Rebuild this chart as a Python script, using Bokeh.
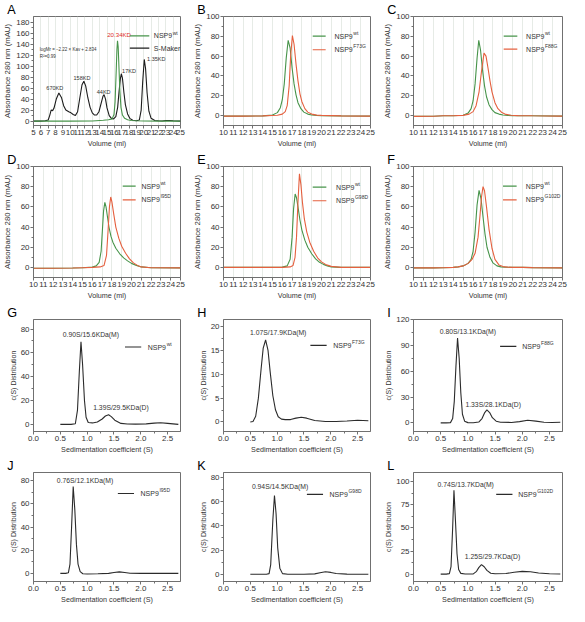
import numpy as np
from bokeh.plotting import figure
from bokeh.layouts import gridplot
from bokeh.models import Label, Arrow, FixedTicker, PrintfTickFormatter, Range1d
from bokeh.embed import file_html
from bokeh.resources import INLINE

# ---------------- data ----------------
# Panel A: SEC calibration (S-Maker) and NSP9 wild type
A_marker_x = [5, 6, 6.6, 7.0, 7.2, 7.4, 7.6, 7.8, 8.1, 8.45, 8.8, 9.1, 9.4, 9.8, 10.1, 10.4, 10.7, 11.0,
              11.3, 11.6, 11.85, 12.1, 12.4, 12.7, 13.0, 13.3, 13.6, 13.9, 14.2, 14.45, 14.6, 14.8, 15.0,
              15.3, 15.6, 15.9, 16.2, 16.45, 16.65, 16.82, 16.95, 17.1, 17.3, 17.5, 17.8, 18.1, 18.5, 19.0,
              19.4, 19.65, 19.85, 20.07, 20.25, 20.45, 20.7, 21.0, 21.5, 22.0, 22.5, 23.0, 23.5, 24.0, 25.0]
A_marker_y = [0, 0, 0.5, 2, 10, 20, 19, 24, 40, 51, 43, 28, 20, 17, 15, 12, 10, 17,
              42, 66, 72.5, 64, 42, 25, 15, 11, 11, 17, 32, 45, 48, 40, 24,
              10, 5, 4, 8, 25, 55, 77, 86, 78, 52, 30, 13, 5, 1.5, 0.5,
              2, 20, 70, 112, 95, 52, 18, 5, 1, 0.5, 0.3, 1, 1.2, 0.5, 0]
A_wt_x = [5, 10, 13, 14.5, 15.2, 15.7, 15.95, 16.1, 16.25, 16.35, 16.43, 16.52, 16.62, 16.75, 16.9, 17.1,
          17.4, 17.8, 18.3, 19.0, 20, 22, 25]
A_wt_y = [0, 0, 0.3, 1.5, 2.5, 4, 12, 35, 90, 130, 146, 135, 100, 55, 25, 11, 5, 2.5, 1.2, 0.5, 0.3, 0, 0]

# Panels B-F: SEC, wild type vs mutant
B_wt_x = [10, 12, 14, 15, 15.5, 15.8, 16.0, 16.2, 16.4, 16.6, 16.8, 17.0, 17.2, 17.4, 17.6, 17.9, 18.2,
          18.6, 19.0, 19.5, 20, 22, 25]
B_wt_y = [-0.5, -0.5, -0.3, 0.5, 3, 8, 16, 32, 58, 76, 68, 48, 32, 21, 13, 7, 3.5, 1.5, 0.6, 0.2, 0, -0.3, -0.5]
B_mut_x = [10, 12, 14, 15.5, 16.0, 16.3, 16.5, 16.7, 16.85, 17.03, 17.2, 17.4, 17.6, 17.8, 18.0, 18.3, 18.6,
           19.0, 19.5, 20, 22, 25]
B_mut_y = [-0.5, -0.5, -0.3, 0.3, 1.5, 4, 10, 30, 60, 80.8, 72, 52, 35, 22, 14, 7, 3.5, 1.5, 0.5, 0.2, -0.3, -0.5]

C_wt_x = [10, 12, 13, 14, 15, 15.5, 15.8, 16.0, 16.2, 16.4, 16.57, 16.75, 16.95, 17.15, 17.35, 17.6, 17.9,
          18.2, 18.6, 19.0, 19.5, 20, 22, 25]
C_wt_y = [-0.8, -0.6, -0.2, -0.2, 0.3, 2.5, 7, 15, 32, 58, 76, 66, 46, 30, 19, 11, 6, 3, 1.5, 0.6, 0.2, 0, -0.2, -0.5]
C_mut_x = [10, 12, 13, 14, 15, 15.6, 16.0, 16.3, 16.6, 16.85, 17.1, 17.3, 17.5, 17.7, 17.9, 18.2, 18.5, 18.9,
           19.3, 19.8, 20.5, 22, 25]
C_mut_y = [-0.8, -0.6, -0.2, -0.2, 0.2, 1.5, 4, 10, 24, 45, 63, 60, 48, 35, 24, 13, 7, 3, 1.2, 0.4, 0, -0.2, -0.5]

D_wt_x = [10, 12, 14, 15, 16, 16.4, 16.7, 16.9, 17.05, 17.15, 17.28, 17.4, 17.55, 17.7, 17.9, 18.1, 18.4,
          18.8, 19.2, 19.6, 20.0, 20.5, 21, 22, 25]
D_wt_y = [-0.8, -0.8, -0.6, -0.3, 0.3, 1.5, 5, 16, 40, 56, 64.5, 60, 50, 40, 31, 25, 19, 13.5, 9.5, 6.5, 4, 2,
          0.5, -0.3, -0.5]
D_mut_x = [10, 12, 14, 15, 16, 16.8, 17.2, 17.45, 17.6, 17.75, 17.88, 18.0, 18.2, 18.4, 18.7, 19.0, 19.4,
           19.8, 20.2, 20.6, 21, 22, 25]
D_mut_y = [-0.8, -0.8, -0.6, -0.3, 0, 0.5, 2, 12, 35, 60, 69.8, 65, 52, 40, 29, 21, 14, 8.5, 4.5, 2, 0.5, -0.3, -0.5]

E_wt_x = [10, 12, 14, 15, 16, 16.5, 16.8, 17.0, 17.15, 17.31, 17.45, 17.6, 17.8, 18.0, 18.3, 18.6, 19.0,
          19.4, 19.8, 20.2, 20.6, 21, 22, 25]
E_wt_y = [0, 0, 0, 0, 0.3, 1.5, 8, 30, 58, 72.8, 69, 60, 47, 37, 27, 20, 13.5, 8.5, 5, 3, 1.5, 0.5, 0, 0]
E_mut_x = [10, 12, 14, 16, 16.8, 17.1, 17.3, 17.45, 17.6, 17.75, 17.9, 18.05, 18.25, 18.5, 18.8, 19.2, 19.6,
           20.0, 20.5, 21, 22, 25]
E_mut_y = [0, 0, 0, 0, 0.5, 2, 10, 30, 65, 92.7, 82, 65, 48, 35, 25, 16, 9.5, 5.5, 2.5, 1, 0, 0]

F_wt_x = [10, 12, 13, 14, 14.5, 15, 15.5, 15.8, 16.0, 16.2, 16.4, 16.6, 16.8, 17.0, 17.2, 17.4, 17.7, 18.0,
          18.4, 18.8, 19.2, 20, 21, 22, 25]
F_wt_y = [-0.5, -0.5, -0.3, 0, 0.5, 1.5, 4, 8, 16, 35, 62, 76.3, 68, 50, 33, 20, 10, 4.5, 1.5, 0.5, 0.3, 0, 0,
          -0.2, -0.5]
F_mut_x = [10, 12, 13, 14, 14.5, 15, 15.5, 15.9, 16.2, 16.5, 16.7, 16.85, 17.0, 17.15, 17.35, 17.6, 17.9,
           18.2, 18.6, 19.0, 19.5, 20, 21, 22, 25]
F_mut_y = [-0.5, -0.5, -0.3, 0, 0.5, 1.5, 4, 8, 14, 30, 52, 70, 80, 76, 60, 38, 19, 8, 2.5, 0.8, 0.3, 0, 0,
           -0.2, -0.5]

# Panels G-L: AUC c(S) distributions
G_x = [0.5, 0.6, 0.7, 0.78, 0.82, 0.855, 0.885, 0.915, 0.95, 0.98, 1.02, 1.1, 1.19, 1.28, 1.34, 1.40, 1.45,
       1.515, 1.63, 1.75, 1.9, 2.1, 2.25, 2.37, 2.5, 2.7]
G_y = [0, 0, 0, 0.5, 12, 45, 69.3, 50, 20, 6, 1.5, 1.2, 2, 4.5, 7, 8, 6.5, 3.5, 0.8, 0.3, 0.2, 0.4, 1, 1.3, 0.8, 0]
H_x = [0.5, 0.55, 0.6, 0.65, 0.7, 0.74, 0.785, 0.83, 0.87, 0.92, 0.97, 1.02, 1.08, 1.15, 1.25, 1.35, 1.45,
       1.55, 1.7, 1.9, 2.1, 2.3, 2.5, 2.7]
H_y = [0, 0.1, 1.2, 5, 11, 15.5, 17.2, 15, 10.5, 5.5, 2.5, 1.1, 0.6, 0.5, 0.5, 0.8, 1.0, 0.8, 0.3, 0.1, 0.1,
       0.2, 0.35, 0.25]
I_x = [0.5, 0.6, 0.68, 0.72, 0.75, 0.78, 0.81, 0.84, 0.87, 0.9, 0.94, 1.0, 1.1, 1.2, 1.26, 1.31, 1.35, 1.4,
       1.45, 1.52, 1.6, 1.8, 1.95, 2.1, 2.25, 2.4, 2.55, 2.7]
I_y = [0, 0, 0.3, 5, 25, 65, 98.5, 75, 35, 10, 2, 0.3, 0.2, 1, 5, 12, 15, 12, 6, 2, 0.8, 0.5, 1.5, 3, 2, 0.8,
       0.5, 0.8]
J_x = [0.5, 0.6, 0.65, 0.68, 0.71, 0.74, 0.77, 0.8, 0.83, 0.87, 0.92, 1.0, 1.2, 1.4, 1.5, 1.6, 1.7, 1.8, 2.0,
       2.3, 2.7]
J_y = [0, 0, 0.5, 8, 40, 75, 55, 25, 8, 1.5, -0.3, -0.5, -0.3, 0, 0.7, 1.3, 0.7, 0.1, 0, 0, 0]
K_x = [0.5, 0.7, 0.8, 0.85, 0.88, 0.92, 0.95, 0.98, 1.01, 1.05, 1.1, 1.2, 1.5, 1.7, 1.8, 1.9, 2.0, 2.1, 2.3, 2.7]
K_y = [0, 0, 0, 0.5, 8, 45, 65, 50, 22, 5, 0.5, 0, 0, 0.3, 1.2, 2, 1.5, 0.6, 0.1, 0]
L_x = [0.5, 0.6, 0.66, 0.69, 0.72, 0.744, 0.77, 0.8, 0.83, 0.87, 0.95, 1.1, 1.16, 1.2, 1.25, 1.3, 1.35, 1.42,
       1.5, 1.7, 1.85, 2.0, 2.15, 2.3, 2.5, 2.7]
L_y = [0, 0, 0.5, 8, 50, 90.7, 60, 22, 5, 0.8, 0.2, 0.3, 3, 7, 10.3, 8, 4, 1, 0.4, 0.6, 2, 3, 2.5, 1.2, 0.4, 0.2]

# tick values
A_xticks = list(range(5, 26))
A_yticks = [0, 20, 40, 60, 80, 100, 120, 140, 160, 180]
SEC_xticks = list(range(10, 26))
SEC_yticks = [0, 20, 40, 60, 80, 100]
AUC_xticks = [0.0, 0.5, 1.0, 1.5, 2.0, 2.5]
G_yticks = [0, 20, 40, 60, 80]
H_yticks = [0, 5, 10, 15, 20]
I_yticks = [0, 30, 60, 90, 120]
J_yticks = [0, 20, 40, 60, 80]
K_yticks = [0, 20, 40, 60, 80]
L_yticks = [0, 25, 50, 75, 100]

# text annotations: (text, x, y)
A_notes = [("670KD", 7.9, 60), ("158KD", 11.6, 79), ("44KD", 14.55, 53), ("17KD", 18.0, 91)]
A_side_note = ("1.35KD", 20.45, 113)
A_red_note = ("20.34KD", 16.65, 158)
A_equation = [("logMr = \u22122.22 \u00d7 Kav + 2.834", 5.85, 130), ("R\u00b2=0.99", 5.85, 117)]
G_notes = [("0.90S/15.6KDa(M)", 1.07, 75), ("1.39S/29.5KDa(D)", 1.63, 14.2)]
H_notes = [("1.07S/17.9KDa(M)", 1.02, 18.8)]
I_notes = [("0.80S/13.1KDa(M)", 1.0, 106.5), ("1.33S/28.1KDa(D)", 1.465, 21.2)]
J_notes = [("0.76S/12.1KDa(M)", 0.96, 80)]
K_notes = [("0.94S/14.5KDa(M)", 1.054, 72.2)]
L_notes = [("0.74S/13.7KDa(M)", 0.96, 96.9), ("1.25S/29.7KDa(D)", 1.453, 19.2)]

# ---------------- styling ----------------
S = 0.973
FONT = "Liberation Sans"
GREEN = "#47944a"
RED = "#e5603f"
BLACK = "#1c1c1c"
CURVE = "#2b2b2b"
AXC = "#707070"
TXT = "#333333"

ROWS = [(150, 15, 22), (152, 16, 22), (154, 17, 24), (150, 14, 22)]  # height, top, bottom
COLS = [(190, 28, 10), (190, 28, 10), (189, 29, 7)]


def px(v):
    return f"{v:.2f}px"


def panel(row, col, letter, xr, yr, xticks, yticks, xminor, yminor, curves, xtitle, ytitle,
          legend, leg_geom, notes=(), grid=False, xfmt=None):
    h, top, bot = ROWS[row]
    w, left, right = COLS[col]
    fh = h - top - bot
    p = figure(width=w, height=h, output_backend="svg", toolbar_location=None,
               x_range=Range1d(*xr), y_range=Range1d(*yr),
               min_border_left=left, min_border_right=right, min_border_top=top, min_border_bottom=bot)
    p.background_fill_color = "white"
    p.border_fill_color = "white"
    p.outline_line_color = AXC
    p.outline_line_width = 1
    for ax, ticks, minor in ((p.xaxis[0], xticks, xminor), (p.yaxis[0], yticks, yminor)):
        ax.ticker = FixedTicker(ticks=ticks, minor_ticks=minor)
        ax.axis_line_color = AXC
        ax.major_tick_line_color = AXC
        ax.minor_tick_line_color = AXC
        ax.major_tick_out = 3
        ax.major_tick_in = 0
        ax.minor_tick_out = 2
        ax.minor_tick_in = 0
        ax.major_label_text_font = FONT
        ax.major_label_text_font_size = px(8.2 * S)
        ax.major_label_text_color = TXT
        ax.major_label_standoff = 1
        ax.axis_label_standoff = 1
        ax.axis_label_text_font = FONT
        ax.axis_label_text_font_style = "normal"
        ax.axis_label_text_color = TXT
    p.xaxis[0].axis_label = xtitle
    p.xaxis[0].axis_label_text_font_size = px(7.4 * S)
    p.yaxis[0].axis_label = ytitle
    p.yaxis[0].axis_label_text_font_size = px((8.0 if ytitle.startswith("Abs") else 7.2) * S)
    if xfmt:
        p.xaxis[0].formatter = PrintfTickFormatter(format=xfmt)
    p.ygrid.grid_line_color = None
    if grid:
        p.xgrid.grid_line_color = "#dfe6df"
        p.xgrid.grid_line_width = 0.8
    else:
        p.xgrid.grid_line_color = None

    # panel letter as the figure title
    p.title.text = letter
    p.title.align = "left"
    p.title.offset = -27 * S
    p.title.standoff = 0
    p.title.text_font = FONT
    p.title.text_font_size = px(13 * S)
    p.title.text_font_style = "normal"
    p.title.text_color = "black"

    for xs, ys, c in curves:
        p.line(xs, ys, line_color=c, line_width=1.1)

    for txt, x, y, *rest in notes:
        color = rest[0] if rest else TXT
        size = rest[1] if len(rest) > 1 else 7.0
        align = rest[2] if len(rest) > 2 else "center"
        p.add_layout(Label(x=x, y=y, text=txt, text_font=FONT, text_font_size=px(size * S),
                           text_color=color, text_align=align, text_baseline="middle"))

    # legend (line sample + text + superscript), positioned in frame pixels
    x0, x1, tx, dy0, pitch = leg_geom
    fsz = 7.2 * S
    for i, (c, main, sup) in enumerate(legend):
        yy = fh - (dy0 + i * pitch) * S
        p.add_layout(Arrow(x_start=x0 * S, y_start=yy, x_end=x1 * S, y_end=yy,
                           start_units="screen", end_units="screen", start=None, end=None,
                           line_color=c, line_width=1.2))
        p.add_layout(Label(x=tx * S, y=yy, x_units="screen", y_units="screen", text=main,
                           text_font=FONT, text_font_size=px(fsz), text_color=TXT,
                           text_baseline="middle"))
        if sup:
            p.add_layout(Label(x=tx * S + 2.612 * fsz + 0.6, y=yy + 3.3, x_units="screen", y_units="screen",
                               text=sup, text_font=FONT, text_font_size=px(5.0), text_color=TXT,
                               text_baseline="middle"))
    return p


def minor_between(t):
    t = list(t)
    return [(a + b) / 2 for a, b in zip(t[:-1], t[1:])]


VOL = "Volume (ml)"
ABS = "Absorbance 280 nm (mAU)"
SED = "Sedimentation coefficient (S)"
CS = "c(S) Distribution"
sec_minor = minor_between(SEC_yticks)
auc_xminor = list(np.arange(0.25, 2.75, 0.5))

pA = panel(0, 0, "A", (5, 25), (-8, 190), A_xticks, A_yticks, [], minor_between(A_yticks),
           [(A_marker_x, A_marker_y, BLACK), (A_wt_x, A_wt_y, GREEN)], VOL, ABS,
           [(GREEN, "NSP9", "wt"), (BLACK, "S-Maker", None)], (99, 119, 123.7, 24, 12.7),
           notes=[(t, x, y, TXT, 5.7) for t, x, y in A_notes]
           + [(A_side_note[0], A_side_note[1], A_side_note[2], TXT, 5.7, "left")]
           + [(A_red_note[0], A_red_note[1], A_red_note[2], "#e0302a", 6.3)]
           + [(t, x, y, TXT, 4.6, "left") for t, x, y in A_equation], grid=True)
pB = panel(0, 1, "B", (10, 25), (-10, 100), SEC_xticks, SEC_yticks, [], sec_minor,
           [(B_wt_x, B_wt_y, GREEN), (B_mut_x, B_mut_y, RED)], VOL, ABS,
           [(GREEN, "NSP9", "wt"), (RED, "NSP9", "F73G")], (91.7, 105, 114, 24.3, 14), grid=True)
pC = panel(0, 2, "C", (10, 25), (-10, 100), SEC_xticks, SEC_yticks, [], sec_minor,
           [(C_wt_x, C_wt_y, GREEN), (C_mut_x, C_mut_y, RED)], VOL, ABS,
           [(GREEN, "NSP9", "wt"), (RED, "NSP9", "F88G")], (92.7, 106.7, 115.7, 24.3, 13.4), grid=True)
pD = panel(1, 0, "D", (10, 25), (-10, 100), SEC_xticks, SEC_yticks, [], sec_minor,
           [(D_wt_x, D_wt_y, GREEN), (D_mut_x, D_mut_y, RED)], VOL, ABS,
           [(GREEN, "NSP9", "wt"), (RED, "NSP9", "I95D")], (91.7, 105, 111, 23.3, 14), grid=True)
pE = panel(1, 1, "E", (10, 25), (-10, 100), SEC_xticks, SEC_yticks, [], sec_minor,
           [(E_wt_x, E_wt_y, GREEN), (E_mut_x, E_mut_y, RED)], VOL, ABS,
           [(GREEN, "NSP9", "wt"), (RED, "NSP9", "G98D")], (91.7, 105.7, 115.7, 24.3, 14), grid=True)
pF = panel(1, 2, "F", (10, 25), (-10, 100), SEC_xticks, SEC_yticks, [], sec_minor,
           [(F_wt_x, F_wt_y, GREEN), (F_mut_x, F_mut_y, RED)], VOL, ABS,
           [(GREEN, "NSP9", "wt"), (RED, "NSP9", "G102D")], (92, 106, 115.3, 23.3, 14), grid=True)

auc = dict(xticks=AUC_xticks, xminor=auc_xminor, xfmt="%.1f")
pG = panel(2, 0, "G", (0, 2.74), (-6, 88), yticks=G_yticks, yminor=minor_between(G_yticks),
           curves=[(G_x, G_y, CURVE)], xtitle=SED, ytitle=CS, legend=[(CURVE, "NSP9", "wt")],
           leg_geom=(94, 110.7, 117.4, 29.3, 14), notes=G_notes, **auc)
pH = panel(2, 1, "H", (0, 2.74), (-2, 21.5), yticks=H_yticks, yminor=minor_between(H_yticks),
           curves=[(H_x, H_y, CURVE)], xtitle=SED, ytitle=CS, legend=[(CURVE, "NSP9", "F73G")],
           leg_geom=(89.3, 106, 112.7, 27.7, 14), notes=H_notes, **auc)
pI = panel(2, 2, "I", (0, 2.74), (-10, 120), yticks=I_yticks, yminor=minor_between(I_yticks),
           curves=[(I_x, I_y, CURVE)], xtitle=SED, ytitle=CS, legend=[(CURVE, "NSP9", "F88G")],
           leg_geom=(89, 105.7, 111.7, 28.7, 14), notes=I_notes, **auc)
pJ = panel(3, 0, "J", (0, 2.74), (-7, 87), yticks=J_yticks, yminor=minor_between(J_yticks),
           curves=[(J_x, J_y, CURVE)], xtitle=SED, ytitle=CS, legend=[(CURVE, "NSP9", "I95D")],
           leg_geom=(86.7, 103.3, 110, 26.7, 14), notes=J_notes, **auc)
pK = panel(3, 1, "K", (0, 2.74), (-6, 84), yticks=K_yticks, yminor=minor_between(K_yticks),
           curves=[(K_x, K_y, CURVE)], xtitle=SED, ytitle=CS, legend=[(CURVE, "NSP9", "G98D")],
           leg_geom=(85.7, 102.3, 109, 27.7, 14), notes=K_notes, **auc)
pL = panel(3, 2, "L", (0, 2.74), (-8, 110), yticks=L_yticks, yminor=minor_between(L_yticks),
           curves=[(L_x, L_y, CURVE)], xtitle=SED, ytitle=CS, legend=[(CURVE, "NSP9", "G102D")],
           leg_geom=(85, 101.7, 107.7, 27.7, 14), notes=L_notes, **auc)

grid = gridplot([[pA, pB, pC], [pD, pE, pF], [pG, pH, pI], [pJ, pK, pL]], toolbar_location=None)

open("out.html", "w").write(file_html(grid, INLINE))
